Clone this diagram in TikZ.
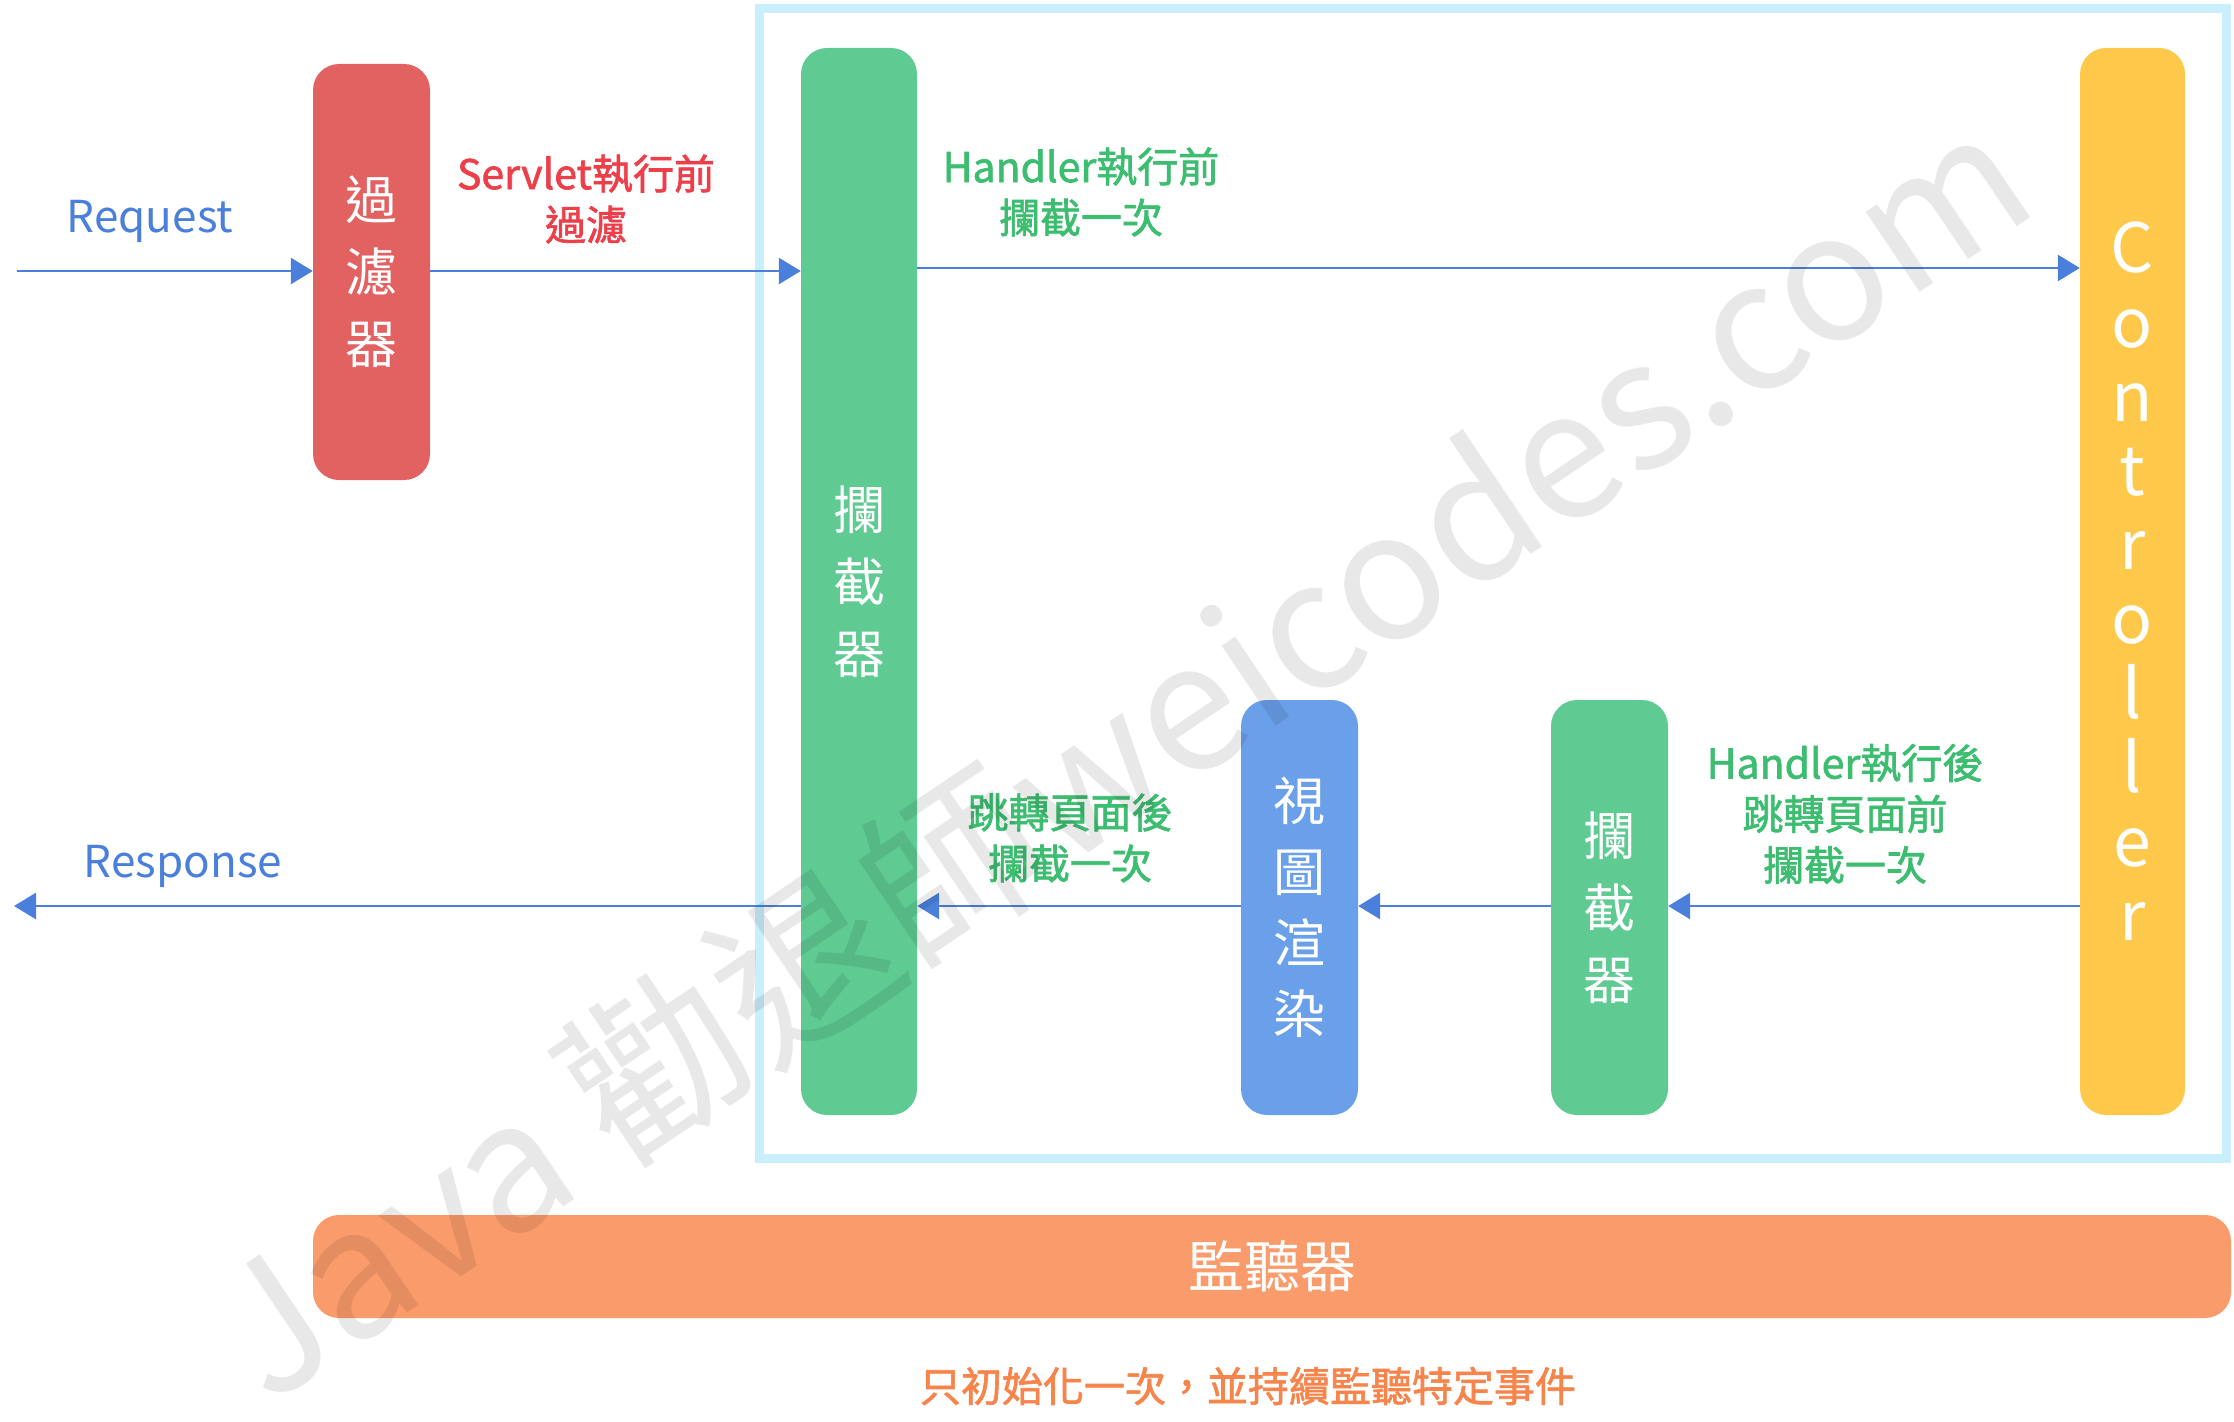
\documentclass[tikz,border=0pt]{standalone}
\usepackage{fontspec}
\setmainfont{Noto Sans CJK TC}
\newfontfamily\medfont[FakeBold=1.6]{Noto Sans CJK TC}
\usetikzlibrary{arrows.meta}
\definecolor{arrowblue}{HTML}{4A80DB}
\definecolor{servred}{HTML}{EC3F4A}
\definecolor{lblgreen}{HTML}{3CBD70}
\definecolor{filterred}{HTML}{E26262}
\definecolor{boxgreen}{HTML}{5FCB93}
\definecolor{boxblue}{HTML}{6AA0EA}
\definecolor{boxyellow}{HTML}{FEC94B}
\definecolor{listorange}{HTML}{FA9B6B}
\definecolor{txtorange}{HTML}{F7844A}
\definecolor{framecol}{HTML}{C9EEFC}
\tikzset{
  colbox/.style={rounded corners=26pt, inner sep=0pt, text=white, align=center,
    font=\fontsize{52}{72}\selectfont},
  flow/.style={draw=arrowblue, line width=2.8pt, -{Triangle[length=22pt,width=26pt]}},
  lbl/.style={inner sep=0pt, align=center, font=\medfont\fontsize{41}{51}\selectfont},
  io/.style={inner sep=0pt, text=arrowblue, font=\fontsize{44}{50}\selectfont},
}
\begin{document}
\begin{tikzpicture}[x=1pt,y=-1pt]
\useasboundingbox[fill=white] (0,0) rectangle (2234,1421);
% frame
\draw[framecol, line width=9pt] (759.5,8.5) rectangle (2226.5,1158.5);
% boxes
\node[colbox, fill=filterred, minimum width=117pt, minimum height=416pt] (filter) at (371.5,272) {過\\濾\\器};
\node[colbox, fill=boxgreen, minimum width=116pt, minimum height=1067pt] (bigint) at (859,581.5) {攔\\截\\器};
\node[colbox, fill=boxyellow, minimum width=105pt, minimum height=1067pt, font=\fontsize{68}{74.2}\selectfont] (ctrl) at (2132.5,581.5) {C\\o\\n\\t\\r\\o\\l\\l\\e\\r};
\node[colbox, fill=boxblue, minimum width=117pt, minimum height=415pt, font=\fontsize{52}{71}\selectfont] (view) at (1299.5,907.5) {視\\圖\\渲\\染};
\node[colbox, fill=boxgreen, minimum width=117pt, minimum height=415pt] (smallint) at (1609.5,907.5) {攔\\截\\器};
\node[colbox, fill=listorange, minimum width=1918pt, minimum height=103pt, font=\fontsize{56}{60}\selectfont] (listener) at (1272,1266.5) {監聽器};
% coordinates
\coordinate (reqstart) at (17,271);
\coordinate (fwdtop) at (917,268);
\coordinate (back) at (2080,906);
\coordinate (respend) at (14,906);
% arrows
\draw[flow] (reqstart) -- (reqstart -| filter.west);
\draw[flow] (reqstart -| filter.east) -- (reqstart -| bigint.west);
\draw[flow] (fwdtop -| bigint.east) -- (fwdtop -| ctrl.west);
\draw[flow] (back -| ctrl.west) -- (back -| smallint.east);
\draw[flow] (back -| smallint.west) -- (back -| view.east);
\draw[flow] (back -| view.west) -- (back -| bigint.east);
\draw[flow] (back -| bigint.west) -- (respend);
% labels
\node[io] (req) at (150,221) {Request};
\node[io] (resp) at (183,866) {Response};
\node[lbl, text=servred] (servlbl) at (586,199) {Servlet執行前\\過濾};
\node[lbl, text=lblgreen] (hprelbl) at (1081,192) {Handler執行前\\攔截一次};
\node[lbl, text=lblgreen] (jafterlbl) at (1070,838) {跳轉頁面後\\攔截一次};
\node[lbl, text=lblgreen] (hpostlbl) at (1845,814) {Handler執行後\\跳轉頁面前\\攔截一次};
\node[lbl, text=txtorange] (note) at (1248,1386) {只初始化一次，並持續監聽特定事件};
% watermark
\node[inner sep=0pt, rotate=34, text=black, text opacity=0.09, font=\fontsize{178}{178}\selectfont] (wm) at (1118,752) {Java 勸退師weicodes.com};
\end{tikzpicture}
\end{document}
